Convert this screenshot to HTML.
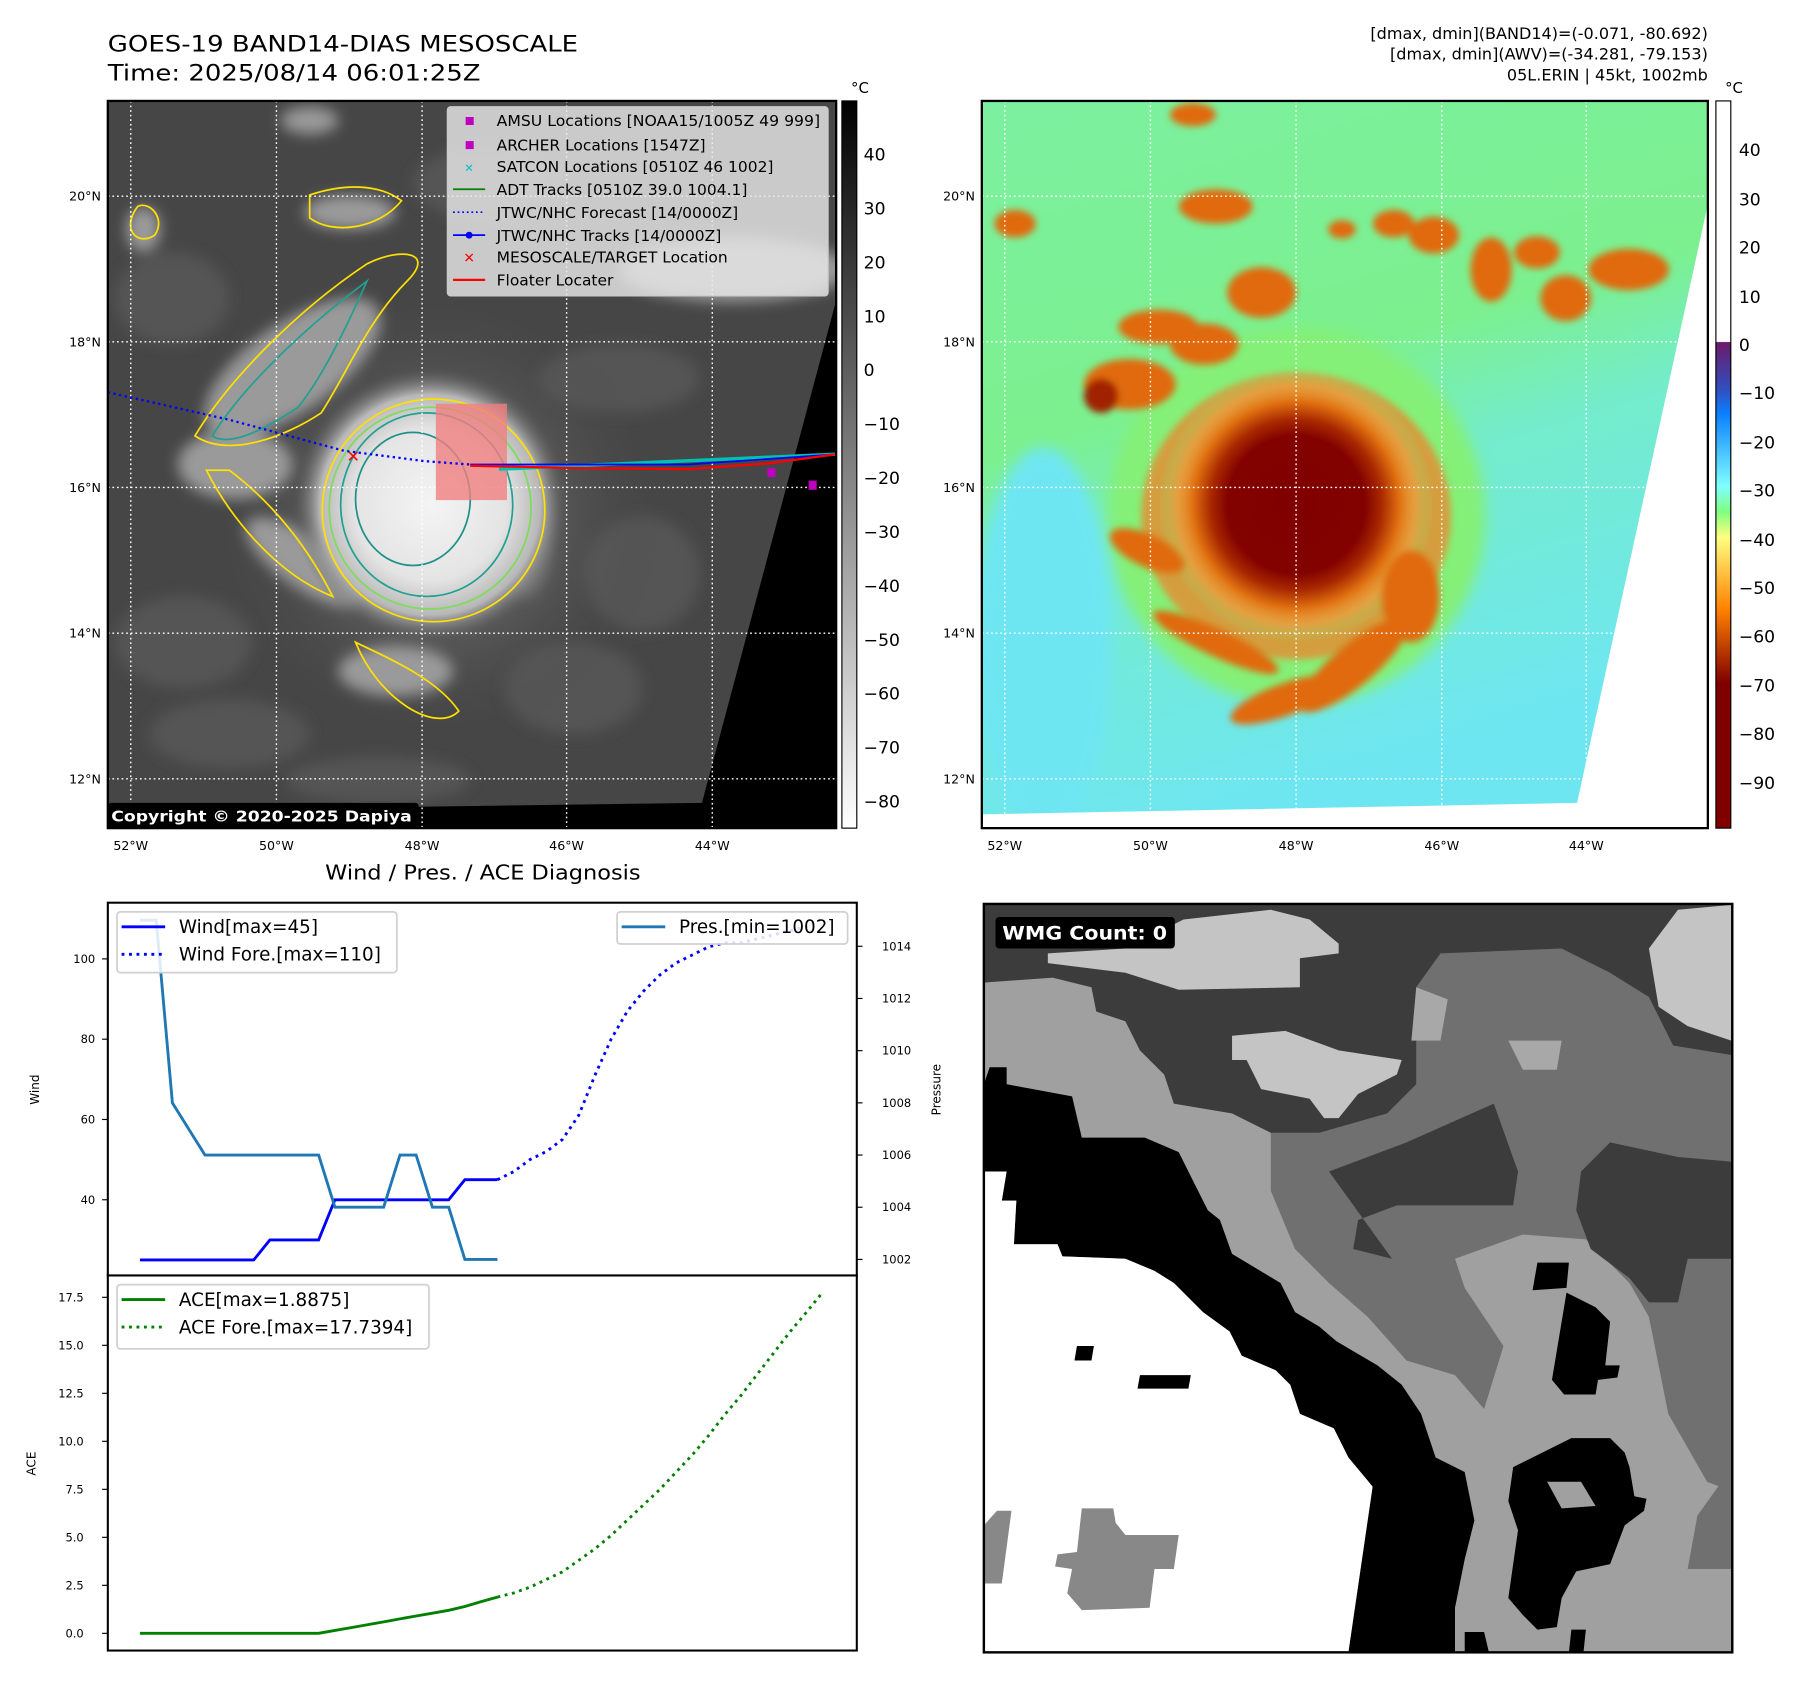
<!DOCTYPE html>
<html><head><meta charset="utf-8"><title>GOES-19 Band14 Dias Mesoscale</title>
<style>
html,body{margin:0;padding:0;background:#fff;}
svg{display:block;font-family:"DejaVu Sans","Liberation Sans",sans-serif;}
</style></head>
<body>
<svg id="fig" xmlns="http://www.w3.org/2000/svg" width="1801" height="1690" viewBox="0 0 1570.2 1473.4" preserveAspectRatio="none">
<defs>
  <filter id="blur6" x="-50%" y="-50%" width="200%" height="200%"><feGaussianBlur stdDeviation="6"/></filter>
  <filter id="blur3" x="-50%" y="-50%" width="200%" height="200%"><feGaussianBlur stdDeviation="3"/></filter>
  <clipPath id="clip1"><rect x="94" y="88" width="635" height="634"/></clipPath>
  <clipPath id="clip2"><rect x="856" y="88" width="633" height="634"/></clipPath>
  <radialGradient id="storm1" cx="375" cy="440" r="120" gradientUnits="userSpaceOnUse">
    <stop offset="0" stop-color="#f4f4f4"/><stop offset="0.55" stop-color="#e4e4e4"/>
    <stop offset="0.8" stop-color="#b8b8b8"/><stop offset="1" stop-color="#5a5a5a" stop-opacity="0"/>
  </radialGradient>
  <radialGradient id="haze1" cx="380" cy="450" r="200" gradientUnits="userSpaceOnUse">
    <stop offset="0" stop-color="#909090"/><stop offset="1" stop-color="#464646" stop-opacity="0"/>
  </radialGradient>
  <linearGradient id="cbar1" x1="0" y1="0" x2="0" y2="1">
    <stop offset="0" stop-color="#000"/><stop offset="1" stop-color="#fff"/>
  </linearGradient>
  <linearGradient id="cbar2" x1="0" y1="0" x2="0" y2="1">
    <stop offset="0" stop-color="#fff"/><stop offset="0.331" stop-color="#fff"/>
    <stop offset="0.332" stop-color="#6a1a6a"/><stop offset="0.398" stop-color="#3050c0"/>
    <stop offset="0.43" stop-color="#0a80ff"/><stop offset="0.53" stop-color="#80ffff"/>
    <stop offset="0.565" stop-color="#80ff80"/><stop offset="0.6" stop-color="#ffff80"/>
    <stop offset="0.70" stop-color="#ff8000"/><stop offset="0.80" stop-color="#800000"/>
    <stop offset="1" stop-color="#800000"/>
  </linearGradient>
  <linearGradient id="bg2" x1="0" y1="0" x2="0.3" y2="1">
    <stop offset="0" stop-color="#7cf0a0"/><stop offset="0.45" stop-color="#7cf08e"/>
    <stop offset="0.62" stop-color="#74eccc"/><stop offset="1" stop-color="#6ee6f2"/>
  </linearGradient>
  <radialGradient id="storm2" cx="1130" cy="440" r="120" gradientUnits="userSpaceOnUse">
    <stop offset="0" stop-color="#800000"/><stop offset="0.5" stop-color="#820200"/>
    <stop offset="0.62" stop-color="#a82800"/><stop offset="0.75" stop-color="#e07010"/>
    <stop offset="0.87" stop-color="#f0a040" stop-opacity="0.55"/><stop offset="1" stop-color="#80f080" stop-opacity="0"/>
  </radialGradient>
</defs>

<!-- Titles -->
<text x="94" y="45" font-size="19" textLength="410" lengthAdjust="spacingAndGlyphs">GOES-19 BAND14-DIAS MESOSCALE</text>
<text x="94" y="70" font-size="19" textLength="325" lengthAdjust="spacingAndGlyphs">Time: 2025/08/14 06:01:25Z</text>
<g font-size="14" text-anchor="end">
  <text x="1489" y="34">[dmax, dmin](BAND14)=(-0.071, -80.692)</text>
  <text x="1489" y="52">[dmax, dmin](AWV)=(-34.281, -79.153)</text>
  <text x="1489" y="70">05L.ERIN | 45kt, 1002mb</text>
</g>

<!-- MAP 1 -->
<g clip-path="url(#clip1)">
  <rect x="94" y="88" width="635" height="634" fill="#464646"/>
  <g filter="url(#blur6)" fill="#555">
    <ellipse cx="160" cy="560" rx="60" ry="40"/><ellipse cx="200" cy="640" rx="70" ry="30"/>
    <ellipse cx="500" cy="600" rx="60" ry="40"/><ellipse cx="560" cy="500" rx="50" ry="50"/>
    <ellipse cx="150" cy="260" rx="50" ry="40"/><ellipse cx="420" cy="160" rx="60" ry="30"/>
    <ellipse cx="540" cy="330" rx="70" ry="30"/><ellipse cx="330" cy="680" rx="80" ry="20"/>
  </g>
  <rect x="94" y="88" width="635" height="634" fill="url(#haze1)"/>
  <g filter="url(#blur6)" fill="#9a9a9a">
    <ellipse cx="255" cy="320" rx="90" ry="38" transform="rotate(-35 255 320)"/>
    <ellipse cx="205" cy="405" rx="50" ry="30"/>
    <ellipse cx="265" cy="490" rx="60" ry="22" transform="rotate(35 265 490)"/>
    <ellipse cx="345" cy="585" rx="50" ry="22"/>
    <ellipse cx="640" cy="235" rx="100" ry="28"/>
    <ellipse cx="305" cy="185" rx="40" ry="15"/>
    <ellipse cx="125" cy="200" rx="15" ry="20"/>
    <ellipse cx="270" cy="105" rx="25" ry="12"/>
    <ellipse cx="455" cy="470" rx="25" ry="50" fill="#7a7a7a"/>
  </g>
  <rect x="94" y="88" width="635" height="634" fill="url(#storm1)"/>
  <g fill="none" stroke-width="1.5">
    <ellipse cx="378" cy="445" rx="97" ry="97" stroke="#ffe000"/>
    <ellipse cx="375" cy="443" rx="88" ry="88" stroke="#7ddc5a"/>
    <ellipse cx="372" cy="440" rx="75" ry="80" stroke="#20a090"/>
    <ellipse cx="360" cy="435" rx="50" ry="58" stroke="#20908a"/>
    <path d="M170 380 C200 330 260 270 320 230 C350 215 380 220 355 245 C320 280 300 330 280 360 C250 380 200 400 170 380Z" stroke="#ffe000"/>
    <path d="M185 380 C210 340 260 290 320 245 C300 290 280 330 260 355 C230 375 200 390 185 380Z" stroke="#20a090"/>
    <path d="M180 410 C200 450 240 500 290 520 C270 480 240 440 200 410Z" stroke="#ffe000"/>
    <path d="M310 560 C330 570 380 590 400 620 C380 640 330 610 310 560Z" stroke="#ffe000"/>
    <path d="M270 170 C300 160 330 160 350 175 C330 200 290 205 270 190Z" stroke="#ffe000"/>
    <path d="M120 180 C130 175 145 190 135 205 C120 215 105 200 120 180Z" stroke="#ffe000"/>
  </g>
  <polygon points="729,262 729,722 94,722 94,707 612,700" fill="#000"/>
  <g stroke="#fff" stroke-width="1.2" stroke-dasharray="1.5 2.5">
    <line x1="114" y1="88" x2="114" y2="722"/><line x1="241" y1="88" x2="241" y2="722"/>
    <line x1="368" y1="88" x2="368" y2="722"/><line x1="494" y1="88" x2="494" y2="722"/>
    <line x1="621" y1="88" x2="621" y2="722"/>
    <line x1="94" y1="171" x2="729" y2="171"/><line x1="94" y1="298" x2="729" y2="298"/>
    <line x1="94" y1="425" x2="729" y2="425"/><line x1="94" y1="552" x2="729" y2="552"/>
    <line x1="94" y1="679" x2="729" y2="679"/>
  </g>
  <rect x="380" y="352" width="62" height="84" fill="#f08080" opacity="0.8"/>
  <polyline points="94,342 200,366 300,393 370,402 410,405" fill="none" stroke="#0000ff" stroke-width="2" stroke-dasharray="2 3"/>
  <g stroke="#00c0b0" stroke-width="3"><line x1="435" y1="409" x2="729" y2="396"/></g>
  <polyline points="410,405 500,405 600,405 729,396" fill="none" stroke="#0000ff" stroke-width="1.5"/>
  <polyline points="410,406 500,408 600,409 670,404 729,396" fill="none" stroke="#ff0000" stroke-width="2"/>
  <text x="308" y="403" font-size="14" fill="#ff0000" text-anchor="middle" font-weight="bold">✕</text>
  <rect x="669" y="408" width="7" height="8" fill="#c000c0"/>
  <rect x="705" y="419" width="7" height="8" fill="#c000c0"/>
  <g font-size="13.5">
    <rect x="390" y="93" width="332" height="165" rx="3" fill="#e8e8e8" fill-opacity="0.82" stroke="#cccccc"/>
    <rect x="406" y="102" width="7" height="7" fill="#c000c0"/><text x="433" y="110" textLength="282" lengthAdjust="spacingAndGlyphs">AMSU Locations [NOAA15/1005Z 49 999]</text>
    <rect x="406" y="123" width="7" height="7" fill="#c000c0"/><text x="433" y="131">ARCHER Locations [1547Z]</text>
    <text x="409" y="150" fill="#00c0c0" text-anchor="middle" font-size="10">✕</text><text x="433" y="150">SATCON Locations [0510Z 46 1002]</text>
    <line x1="395" y1="165" x2="423" y2="165" stroke="#008000" stroke-width="1.5"/><text x="433" y="170">ADT Tracks [0510Z 39.0 1004.1]</text>
    <line x1="395" y1="185" x2="423" y2="185" stroke="#0000ff" stroke-width="1.5" stroke-dasharray="1.5 2.5"/><text x="433" y="190">JTWC/NHC Forecast [14/0000Z]</text>
    <line x1="395" y1="205" x2="423" y2="205" stroke="#0000ff" stroke-width="1.5"/><circle cx="409" cy="205" r="3" fill="#0000ff"/><text x="433" y="210">JTWC/NHC Tracks [14/0000Z]</text>
    <text x="409" y="229" fill="#ff0000" text-anchor="middle" font-size="12" font-weight="bold">✕</text><text x="433" y="229">MESOSCALE/TARGET Location</text>
    <line x1="395" y1="244" x2="423" y2="244" stroke="#ff0000" stroke-width="2"/><text x="433" y="249">Floater Locater</text>
  </g>
  <rect x="94" y="700" width="271" height="22" rx="3" fill="#000"/>
  <text x="97" y="716" font-size="13" font-weight="bold" fill="#fff" textLength="262" lengthAdjust="spacingAndGlyphs">Copyright © 2020-2025 Dapiya</text>
</g>
<rect x="94" y="88" width="635" height="634" fill="none" stroke="#000" stroke-width="2"/>
<g font-size="11">
  <g text-anchor="end"><text x="88" y="175">20°N</text><text x="88" y="302">18°N</text><text x="88" y="429">16°N</text><text x="88" y="556">14°N</text><text x="88" y="683">12°N</text></g>
  <g text-anchor="middle"><text x="114" y="741">52°W</text><text x="241" y="741">50°W</text><text x="368" y="741">48°W</text><text x="494" y="741">46°W</text><text x="621" y="741">44°W</text></g>
</g>
<g>
  <rect x="734" y="88" width="13" height="634" fill="url(#cbar1)" stroke="#000" stroke-width="1"/>
  <text x="742" y="81" font-size="13">°C</text>
  <g font-size="15">
    <text x="753" y="140">40</text><text x="753" y="187">30</text><text x="753" y="234">20</text><text x="753" y="281">10</text><text x="753" y="328">0</text>
    <text x="753" y="375">−10</text><text x="753" y="422">−20</text><text x="753" y="469">−30</text><text x="753" y="516">−40</text><text x="753" y="563">−50</text>
    <text x="753" y="610">−60</text><text x="753" y="657">−70</text><text x="753" y="704">−80</text>
  </g>
</g>

<!-- MAP 2 -->
<g clip-path="url(#clip2)">
  <rect x="856" y="88" width="633" height="634" fill="url(#bg2)"/>
  <g filter="url(#blur6)">
    <ellipse cx="910" cy="560" rx="60" ry="170" fill="#6ee6f2"/>
    <ellipse cx="1130" cy="450" rx="165" ry="165" fill="#84f078"/>
  </g>
  <g filter="url(#blur3)" fill="#e88a30" opacity="0.8">
    <ellipse cx="1130" cy="450" rx="135" ry="125"/>
  </g>
  <rect x="856" y="88" width="633" height="634" fill="url(#storm2)"/>
  <g filter="url(#blur3)" fill="#e06a10">
    <ellipse cx="1060" cy="180" rx="32" ry="15"/><ellipse cx="1040" cy="100" rx="20" ry="10"/>
    <ellipse cx="885" cy="195" rx="18" ry="12"/>
    <ellipse cx="1215" cy="195" rx="18" ry="12"/><ellipse cx="1250" cy="205" rx="22" ry="16"/>
    <ellipse cx="1300" cy="235" rx="18" ry="28"/><ellipse cx="1340" cy="220" rx="20" ry="14"/>
    <ellipse cx="1365" cy="260" rx="22" ry="20"/><ellipse cx="1420" cy="235" rx="35" ry="18"/>
    <ellipse cx="1100" cy="255" rx="30" ry="22"/><ellipse cx="1170" cy="200" rx="12" ry="8"/>
    <ellipse cx="985" cy="335" rx="40" ry="22"/><ellipse cx="1010" cy="285" rx="35" ry="15"/>
    <ellipse cx="1050" cy="300" rx="30" ry="18"/><ellipse cx="960" cy="345" rx="15" ry="15" fill="#a02000"/>
    <ellipse cx="1000" cy="480" rx="35" ry="14" transform="rotate(25 1000 480)"/>
    <ellipse cx="1060" cy="560" rx="60" ry="12" transform="rotate(25 1060 560)"/>
    <ellipse cx="1120" cy="610" rx="50" ry="14" transform="rotate(-20 1120 610)"/>
    <ellipse cx="1180" cy="580" rx="60" ry="18" transform="rotate(-40 1180 580)"/>
    <ellipse cx="1230" cy="520" rx="25" ry="40"/>
  </g>
  <polygon points="1489,178 1489,722 856,722 856,710 1375,700" fill="#fff"/>
  <g stroke="#fff" stroke-width="1.2" stroke-dasharray="1.5 2.5">
    <line x1="876" y1="88" x2="876" y2="722"/><line x1="1003" y1="88" x2="1003" y2="722"/>
    <line x1="1130" y1="88" x2="1130" y2="722"/><line x1="1257" y1="88" x2="1257" y2="722"/>
    <line x1="1383" y1="88" x2="1383" y2="722"/>
    <line x1="856" y1="171" x2="1489" y2="171"/><line x1="856" y1="298" x2="1489" y2="298"/>
    <line x1="856" y1="425" x2="1489" y2="425"/><line x1="856" y1="552" x2="1489" y2="552"/>
    <line x1="856" y1="679" x2="1489" y2="679"/>
  </g>
</g>
<rect x="856" y="88" width="633" height="634" fill="none" stroke="#000" stroke-width="2"/>
<g font-size="11">
  <g text-anchor="end"><text x="850" y="175">20°N</text><text x="850" y="302">18°N</text><text x="850" y="429">16°N</text><text x="850" y="556">14°N</text><text x="850" y="683">12°N</text></g>
  <g text-anchor="middle"><text x="876" y="741">52°W</text><text x="1003" y="741">50°W</text><text x="1130" y="741">48°W</text><text x="1257" y="741">46°W</text><text x="1383" y="741">44°W</text></g>
</g>
<g>
  <rect x="1496" y="88" width="13" height="634" fill="url(#cbar2)" stroke="#000" stroke-width="1"/>
  <text x="1504" y="81" font-size="13">°C</text>
  <g font-size="15">
    <text x="1516" y="136">40</text><text x="1516" y="179">30</text><text x="1516" y="221">20</text><text x="1516" y="264">10</text><text x="1516" y="306">0</text>
    <text x="1516" y="348">−10</text><text x="1516" y="391">−20</text><text x="1516" y="433">−30</text><text x="1516" y="476">−40</text><text x="1516" y="518">−50</text>
    <text x="1516" y="560">−60</text><text x="1516" y="603">−70</text><text x="1516" y="645">−80</text><text x="1516" y="688">−90</text>
  </g>
</g>

<!-- MAP 4 (WMG) -->
<g transform="translate(854.4,784.7) scale(0.4226)">
  <rect x="8" y="8" width="1544" height="1544" fill="#a0a0a0"/>
  <polygon fill="#707070" points="8,170 150,160 230,180 240,230 300,250 330,310 380,360 400,420 520,440 600,480 600,600 650,720 720,790 800,860 880,950 980,980 1040,1050 1080,920 1000,800 980,740 1120,690 1250,700 1340,790 1380,860 1420,1060 1500,1200 1552,1220 1552,8 8,8"/>
  <polygon fill="#707070" points="1460,1380 1480,1270 1530,1200 1552,1200 1552,1380"/>
  <polygon fill="#3c3c3c" points="8,8 1552,8 1552,320 1430,300 1380,200 1300,150 1200,100 950,110 900,180 900,380 840,440 700,480 600,480 520,440 400,420 380,360 330,310 300,250 240,230 230,180 150,160 8,170"/>
  <polygon fill="#3c3c3c" points="720,560 880,500 1060,420 1110,560 1100,630 860,630 780,660 770,720 850,740"/>
  <polygon fill="#3c3c3c" points="1240,560 1300,500 1440,530 1552,540 1552,740 1460,740 1440,830 1380,830 1340,780 1260,720 1230,640"/>
  <g fill="#c4c4c4">
    <polygon points="140,110 300,100 420,40 600,20 680,40 740,90 740,110 660,120 660,180 410,185 300,150 140,130"/>
    <polygon points="520,280 630,270 740,310 870,330 860,360 780,400 740,450 710,450 680,410 580,390 550,330 520,330"/>
    <polygon points="1380,100 1440,20 1550,10 1550,290 1460,260 1400,220"/>
    <polygon fill="#a8a8a8" points="1090,290 1200,290 1190,350 1120,350"/>
    <polygon fill="#a8a8a8" points="900,180 965,205 950,290 890,290"/>
  </g>
  <polygon fill="#000" points="20,345 55,345 55,380 190,405 210,490 340,490 410,520 440,580 470,640 495,660 520,730 620,790 650,850 700,880 735,910 820,960 870,1000 910,1060 940,1150 1000,1180 1020,1280 1000,1360 980,1460 980,1552 760,1552 810,1210 760,1150 730,1090 660,1060 640,1000 610,970 540,940 515,890 460,850 400,790 360,765 300,740 170,735 160,710 70,710 75,620 45,620 55,560 8,560 8,380"/>
  <polygon fill="#fff" points="8,560 55,560 45,620 75,620 70,710 160,710 170,735 300,740 360,765 400,790 460,850 515,890 540,940 610,970 640,1000 660,1060 730,1090 760,1150 810,1210 760,1552 8,1552"/>
  <polygon fill="#888" points="210,1255 275,1255 280,1285 300,1310 410,1310 400,1380 360,1380 350,1460 210,1465 180,1430 190,1380 155,1375 160,1350 200,1345"/>
  <polygon fill="#888" points="8,1290 35,1260 65,1260 45,1410 8,1410"/>
  <g fill="#000">
    <polygon points="200,920 235,920 230,950 195,950"/>
    <polygon points="330,980 435,980 430,1008 325,1008"/>
    <polygon points="1150,748 1215,748 1210,800 1140,805"/>
    <polygon points="1210,810 1270,840 1300,870 1290,960 1320,960 1315,985 1275,990 1270,1020 1205,1020 1180,990"/>
    <polygon points="1100,1170 1220,1110 1300,1110 1330,1140 1340,1170 1350,1230 1375,1235 1370,1260 1330,1290 1300,1370 1230,1385 1200,1440 1190,1500 1150,1505 1120,1475 1090,1440 1110,1300 1090,1240"/>
    <polygon points="1000,1510 1040,1510 1050,1552 1000,1552"/>
    <polygon points="1220,1505 1250,1505 1245,1552 1215,1552"/>
  </g>
  <polygon fill="#a0a0a0" points="1170,1200 1240,1200 1270,1250 1200,1255"/>
  <rect x="32" y="35" width="370" height="65" rx="8" fill="#000"/>
  <text x="46" y="81" font-size="38" font-weight="bold" fill="#fff" textLength="340" lengthAdjust="spacingAndGlyphs">WMG Count: 0</text>
  <rect x="8" y="8" width="1544" height="1544" fill="none" stroke="#000" stroke-width="5"/>
</g>

<!-- Bottom-left charts -->
<text x="421" y="767" font-size="18" text-anchor="middle" textLength="275" lengthAdjust="spacingAndGlyphs">Wind / Pres. / ACE Diagnosis</text>
<g id="charts"></g>
<rect x="94" y="787" width="653" height="325" fill="none" stroke="#000" stroke-width="1.8"/>
<rect x="94" y="1112" width="653" height="327" fill="none" stroke="#000" stroke-width="1.8"/>
<text x="0" y="0" font-size="10.5" transform="translate(34,950) rotate(-90)" text-anchor="middle">Wind</text>
<text x="0" y="0" font-size="10.5" transform="translate(820,950) rotate(-90)" text-anchor="middle">Pressure</text>
<text x="0" y="0" font-size="10.5" transform="translate(31,1276) rotate(-90)" text-anchor="middle">ACE</text>

<script>
const windObs = [25,25,25,25,25,25,25,25,30,30,30,30,40,40,40,40,40,40,40,40,45,45,45];
const windFore = [45,47,50,52,55,61,71,80,87,92,96,99,101,103,104,104,105,106,107,108,110];
const presObs = [1015,1015,1008,1007,1006,1006,1006,1006,1006,1006,1006,1006,1004,1004,1004,1004,1006,1006,1004,1004,1002,1002,1002];
const aceObs = [0,0,0,0,0,0,0,0,0,0,0,0,0.15,0.3,0.45,0.6,0.75,0.9,1.05,1.2,1.4,1.65,1.8875];
const aceFore = [1.8875,2.1,2.4,2.8,3.2,3.8,4.4,5.1,5.9,6.7,7.5,8.4,9.3,10.3,11.4,12.4,13.5,14.6,15.7,16.7,17.7394];
const windTicks = [40,60,80,100];
const presTicks = [1002,1004,1006,1008,1010,1012,1014];
const aceTicks = [0,2.5,5,7.5,10,12.5,15,17.5];

const NS = "http://www.w3.org/2000/svg";
const root = document.getElementById('charts');
const xS = i => 122 + i * (595/42);
const yWind = w => 1046 - (w - 40) * 3.5;
const yPres = p => 825 + (1014 - p) * 22.75;
const yAce = a => 1424 - a * 16.74;

function mk(tag, attrs, parent){
  const e = document.createElementNS(NS, tag);
  for (const k in attrs) e.setAttribute(k, attrs[k]);
  (parent || root).appendChild(e);
  return e;
}
function pts(arr, off, yf){ return arr.map((v,i)=> xS(i+off).toFixed(1)+','+yf(v).toFixed(1)).join(' '); }

let l;
l = mk('polyline', {points: pts(windObs,0,yWind), fill:'none', stroke:'#0000ff', 'stroke-width':2.5});


l = mk('polyline', {points: pts(windFore,22,yWind), fill:'none', stroke:'#0000ff', 'stroke-width':2.5, 'stroke-dasharray':'2.5 4'});


l = mk('polyline', {points: pts(presObs,0,yPres), fill:'none', stroke:'#1f77b4', 'stroke-width':2.5});


l = mk('polyline', {points: pts(aceObs,0,yAce), fill:'none', stroke:'#008000', 'stroke-width':2.5});


l = mk('polyline', {points: pts(aceFore,22,yAce), fill:'none', stroke:'#008000', 'stroke-width':2.5, 'stroke-dasharray':'2.5 4'});



windTicks.forEach(v => {
  const y = yWind(v);
  const t = mk('line', {x1:89, x2:94, y1:y, y2:y, stroke:'#000', 'stroke-width':1});
  
  
  const tx = mk('text', {x:83, y:y+3.5, 'font-size':10, 'text-anchor':'end'});
  tx.textContent = v;
  
  
});
presTicks.forEach(v => {
  const y = yPres(v);
  const t = mk('line', {x1:747, x2:752, y1:y, y2:y, stroke:'#000', 'stroke-width':1});
  
  
  const tx = mk('text', {x:769, y:y+3.5, 'font-size':10});
  tx.textContent = v;
  
  
});
aceTicks.forEach(v => {
  const y = yAce(v);
  const t = mk('line', {x1:89, x2:94, y1:y, y2:y, stroke:'#000', 'stroke-width':1});
  
  
  const tx = mk('text', {x:73, y:y+3.5, 'font-size':10, 'text-anchor':'end'});
  tx.textContent = v.toFixed(1);
  
  
});

// legends
function legend(name, x, y, w, h, items){
  const g = mk('g', {});
  
  
  mk('rect', {x:x, y:y, width:w, height:h, rx:3, fill:'#fff', 'fill-opacity':0.85, stroke:'#d0d0d0', 'stroke-width':1.5}, g);
  items.forEach((it, k) => {
    const cy = y + 13 + k*24;
    const a = {x1:x+4, x2:x+42, y1:cy, y2:cy, stroke:it.c, 'stroke-width':2.5};
    if (it.d) a['stroke-dasharray'] = '2.5 4';
    mk('line', a, g);
    const t = mk('text', {x:x+54, y:cy+5.5, 'font-size':16}, g);
    t.textContent = it.t;
  });
}
legend('wind-legend', 102, 795, 244, 53, [{c:'#0000ff', t:'Wind[max=45]'}, {c:'#0000ff', d:1, t:'Wind Fore.[max=110]'}]);
legend('pressure-legend', 538, 795, 201, 28, [{c:'#1f77b4', t:'Pres.[min=1002]'}]);
legend('ace-legend', 102, 1120, 272, 56, [{c:'#008000', t:'ACE[max=1.8875]'}, {c:'#008000', d:1, t:'ACE Fore.[max=17.7394]'}]);
</script>
</svg>
</body></html>
